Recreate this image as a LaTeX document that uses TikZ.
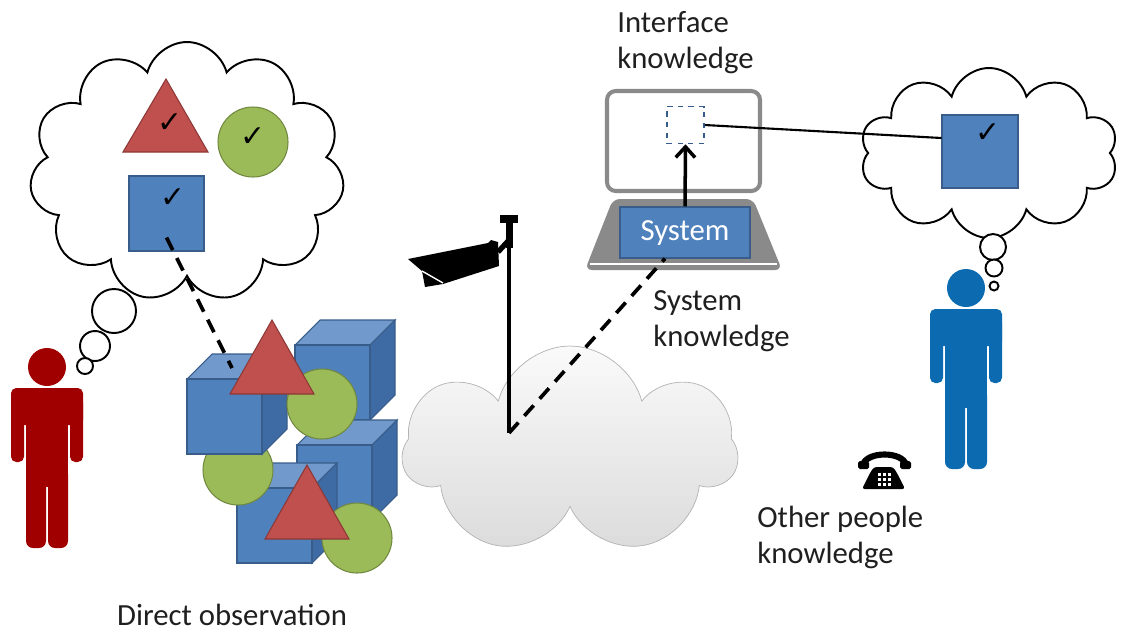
\documentclass[tikz,border=0pt]{standalone}
\usepackage{fontspec}
\setmainfont{Carlito}
\newfontfamily\symfont{DejaVu Sans}
\usetikzlibrary{shapes.symbols,arrows.meta,positioning}

\definecolor{boxblue}{HTML}{4F81BD}
\definecolor{boxedge}{HTML}{385D8A}
\definecolor{topblue}{HTML}{7199CB}
\definecolor{sideblue}{HTML}{3E6BA3}
\definecolor{trired}{HTML}{C0504D}
\definecolor{triedge}{HTML}{8C3836}
\definecolor{ballgreen}{HTML}{9BBB59}
\definecolor{balledge}{HTML}{71893F}
\definecolor{manred}{HTML}{A00000}
\definecolor{manblue}{HTML}{0B6AB0}
\definecolor{laptopgray}{HTML}{8A8A8A}

\tikzset{
  thought/.style={cloud, cloud puffs=11, cloud ignores aspect, draw, line width=1.1pt, fill=white, inner sep=0pt},
  bubble/.style={draw, line width=1.1pt, fill=white},
  bluebox/.style={draw=boxedge, fill=boxblue, line width=0.6pt, inner sep=0pt},
  redtri/.style={draw=triedge, fill=trired, line width=0.6pt},
  greenball/.style={draw=balledge, fill=ballgreen, line width=0.6pt},
  tickmark/.style={font=\symfont\fontsize{17}{17}\selectfont, inner sep=0pt},
  knowtext/.style={font=\fontsize{17.5}{20.5}\selectfont, align=left, inner sep=0pt, text=black!88},
  dashline/.style={line width=2.1pt, dash pattern=on 0.28cm off 0.18cm},
  pics/cube/.style={code={
    \filldraw[fill=topblue, draw=boxedge, line width=0.6pt] (0,0) -- (25,-25) -- (100,-25) -- (75,0) -- cycle;
    \filldraw[fill=sideblue, draw=boxedge, line width=0.6pt] (75,0) -- (100,-25) -- (100,50) -- (75,75) -- cycle;
    \filldraw[fill=boxblue, draw=boxedge, line width=0.6pt] (0,0) rectangle (75,75);
  }},
  pics/person/.style={code={
    \fill[#1] (0,0) circle (19);
    \fill[#1, rounded corners=3pt] (-36,21) rectangle (36,58);
    \fill[#1, rounded corners=3pt] (-36,30) rectangle (-23,95);
    \fill[#1, rounded corners=3pt] (23,30) rectangle (36,95);
    \fill[#1] (-21,40) rectangle (21,120);
    \fill[#1, rounded corners=4pt] (-21,100) rectangle (-1,181);
    \fill[#1, rounded corners=4pt] (1,100) rectangle (21,181);
  }}
}

\begin{document}
\begin{tikzpicture}[x=0.02cm, y=-0.02cm]
  \useasboundingbox (0,0) rectangle (1124,633);

  % observer on the left and what he remembers
  \node[thought, minimum width=6.3cm, minimum height=5.2cm] (lcloud) at (187,172) {};
  \draw[bubble] (114,311) circle (22);
  \draw[bubble] (95,346) circle (15);
  \draw[bubble] (85,366) circle (8);
  \filldraw[redtri] (123,152) -- (166,79) -- (208,152) -- cycle;
  \node[tickmark] (tick1) at (170,123) {✓};
  \filldraw[greenball] (253,142) circle (35);
  \node[tickmark] (tick2) at (253,137) {✓};
  \node[bluebox, minimum size=1.5cm] (thinkbox) at (166.5,213.5) {};
  \node[tickmark] (tick3) at (173,198) {✓};
  \pic at (47,367) {person=manred};

  % the pile of real objects
  \pic at (295,345) {cube};
  \pic at (297,445) {cube};
  \pic at (237,488) {cube};
  \filldraw[greenball] (238,470) circle (35);
  \pic at (187,379) {cube};
  \filldraw[greenball] (322,404) circle (35);
  \filldraw[redtri] (230,394) -- (272,320) -- (314,394) -- cycle;
  \filldraw[greenball] (357,538) circle (35);
  \filldraw[redtri] (265,539) -- (307,465) -- (349,539) -- cycle;
  \coordinate (seen) at (232,368);
  \draw[dashline] ([yshift=-0.48cm]thinkbox.center) -- (seen);
  \node[knowtext] (direct) at (232,615) {Direct observation};

  % network cloud and camera
  \node[cloud, cloud puffs=7, cloud ignores aspect, minimum width=6.7cm, minimum height=4.2cm,
        draw=gray!60, top color=gray!4, bottom color=gray!28] (net) at (570,451) {};
  \coordinate (poletop) at (509,219);
  \coordinate (polefoot) at (509,433);
  \draw[line width=2.2pt] (poletop) -- (polefoot);
  \fill (500,215) rectangle (518,223);
  \fill (506,223) rectangle (513,248);
  \fill (408,259) -- (488,243) -- (491,240) -- (498,242) -- (499,266) -- (443,284)
        -- (425,287) -- (422,271) -- cycle;
  \draw[white, line width=0.8pt] (422,271) -- (443,283);
  \draw[line width=3pt] (498,252) -- (509,240);

  % laptop
  \draw[laptopgray, line width=2.3pt, rounded corners=5pt, fill=white] (607,91) rectangle (760,191);
  \node[draw=boxedge, dashed, line width=0.9pt, minimum size=0.74cm, inner sep=0pt, fill=white] (uibox) at (685.5,125) {};
  \fill[laptopgray, rounded corners=4pt] (613,199) -- (753,199) -- (782,270) -- (585,270) -- cycle;
  \draw[white, line width=1.2pt] (590,264) -- (777,264);
  \node[bluebox, minimum width=2.6cm, minimum height=1.02cm, text=white,
        font=\fontsize{17.5}{20}\selectfont] (system) at (685,232.5) {System};
  \draw[-{Straight Barb[length=6pt,width=11pt]}, line width=2pt] (system.north) -- (uibox.south);
  \draw[dashline] (polefoot) -- ([xshift=-0.4cm]system.south);
  \node[knowtext, anchor=west] (iface) at (617,43) {Interface\\knowledge};
  \node[knowtext, anchor=west] (sysknow) at (653,321) {System\\knowledge};

  % the other person
  \node[thought, cloud puffs=10, minimum width=5.16cm, minimum height=3.4cm] (rcloud) at (989,153) {};
  \draw[bubble] (993,247) circle (13);
  \draw[bubble] (994,268) circle (8.5);
  \draw[bubble] (994,286) circle (4.5);
  \node[bluebox, minimum width=1.52cm, minimum height=1.46cm] (recall) at (980,151.5) {};
  \node[tickmark] (tick4) at (988,133) {✓};
  \draw[line width=1.2pt] (uibox.east) -- ([yshift=0.27cm]recall.west);
  \pic at (966,288) {person=manblue};

  % desk telephone
  \draw[line width=3.5pt] (863,465) .. controls (866,451) and (903,451) .. (906,465);
  \fill[rounded corners=1pt] (858,461) rectangle (869,469);
  \fill[rounded corners=1pt] (900,461) rectangle (911,469);
  \fill[rounded corners=1.5pt] (874,467) -- (893,467) -- (897,473) -- (905,489) -- (862,489) -- (870,473) -- cycle;
  \foreach \kx in {879,884,889}
    \foreach \ky in {474,479,484}
      \fill[white] (\kx-1.5,\ky-1.5) rectangle (\kx+1.5,\ky+1.5);
  \node[knowtext, anchor=west] (others) at (757,537) {Other people\\knowledge};
\end{tikzpicture}
\end{document}
